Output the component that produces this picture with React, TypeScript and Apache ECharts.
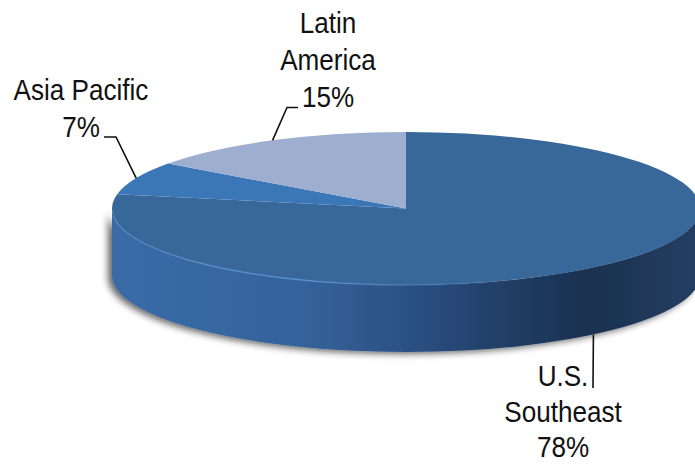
import React, { useEffect, useRef } from "react";
import * as echarts from "echarts";

// Revenue share by region
const categories = ["U.S.\nSoutheast", "Asia Pacific", "Latin\nAmerica"];
const shares = [78, 7, 15];
const topColors = ["#38679A", "#3B77B7", "#9DAED0"];

// Tilted disc geometry
const CX = 406;
const CY = 208.5;
const RX = 294;
const RY = 76.5;
const DEPTH = 67;

// Centre of each label's first line, its line spacing, and the leader bends
// that follow each slice's mid-angle rim point
const labelCentres = [
  [563, 376],
  [81, 90],
  [328, 23],
];
const lineSteps = [35.5, 37, 37];
const leaderBends = [
  [[593, 388]],
  [[116, 137], [104, 137]],
  [[287, 107.5], [298, 107.5]],
];

const FONT = '"Liberation Sans", Arial, sans-serif';
const FONT_SIZE = 29;
const rad = (deg: number) => (deg * Math.PI) / 180;
const rim = (deg: number, dy = 0): [number, number] => [
  CX + RX * Math.sin(rad(deg)),
  CY - RY * Math.cos(rad(deg)) + dy,
];

function wedgePath(a: number, b: number) {
  const [x1, y1] = rim(a);
  const [x2, y2] = rim(b);
  const large = b - a > 180 ? 1 : 0;
  return `M${CX} ${CY}L${x1} ${y1}A${RX} ${RY} 0 ${large} 1 ${x2} ${y2}Z`;
}

function wallPath(a: number, b: number) {
  const [x1, y1] = rim(a);
  const [x2, y2] = rim(b);
  const large = b - a > 180 ? 1 : 0;
  return `M${x1} ${y1}A${RX} ${RY} 0 ${large} 1 ${x2} ${y2}L${x2} ${y2 + DEPTH}A${RX} ${RY} 0 ${large} 0 ${x1} ${y1 + DEPTH}Z`;
}

function rimPath(a: number, b: number) {
  const [x1, y1] = rim(a);
  const [x2, y2] = rim(b);
  return `M${x1} ${y1}A${RX} ${RY} 0 0 0 ${x2} ${y2}`;
}

const wallGradient = new echarts.graphic.LinearGradient(0, 0, 1, 0, [
  { offset: 0, color: "#3A6BA6" },
  { offset: 0.32, color: "#35639B" },
  { offset: 0.49, color: "#2C5286" },
  { offset: 0.7, color: "#1F3B60" },
  { offset: 0.81, color: "#1B3151" },
  { offset: 1, color: "#253F62" },
]);

const rimGradient = new echarts.graphic.LinearGradient(0, 0, 1, 0, [
  { offset: 0, color: "rgba(90,145,210,0.35)" },
  { offset: 0.5, color: "rgba(90,145,210,0.9)" },
  { offset: 1, color: "rgba(90,145,210,0)" },
]);

const total = shares.reduce((s, v) => s + v, 0);

function renderSlice(params: any, api: any) {
  const i = params.dataIndex;
  const before = shares.slice(0, i).reduce((s, v) => s + v, 0);
  const start = (before / total) * 360;
  const sweep = (api.value(0) / total) * 360;
  const end = start + sweep;
  const mid = start + sweep / 2;
  const children: any[] = [];

  // Front wall, only where the slice faces the viewer
  const wa = Math.max(start, 90);
  const wb = Math.min(end, 270);
  if (wb > wa) {
    children.push({
      type: "path",
      shape: { pathData: wallPath(wa, wb) },
      style: {
        fill: wallGradient,
        shadowColor: "rgba(0,0,0,0.6)",
        shadowBlur: 7,
        shadowOffsetX: -4,
        shadowOffsetY: 2,
      },
    });
  }

  children.push({
    type: "path",
    shape: { pathData: wedgePath(start, end) },
    style: { fill: topColors[i] },
  });

  // Soft highlight along the front rim of the disc
  if (wb > wa) {
    children.push({
      type: "path",
      shape: { pathData: rimPath(265, 160) },
      style: { fill: "none", stroke: rimGradient, lineWidth: 1.6 },
    });
  }

  const anchorDrop = mid > 90 && mid < 270 ? DEPTH : 0;
  const points = [rim(mid, anchorDrop), ...leaderBends[i]];
  children.push({
    type: "polyline",
    shape: { points },
    style: { fill: "none", stroke: "#111111", lineWidth: 1.6 },
  });

  // Narrowed label lettering, one text per line
  const lines = `${categories[i]}\n${shares[i]}%`.split("\n");
  lines.forEach((line, n) => {
    children.push({
      type: "text",
      x: labelCentres[i][0],
      y: labelCentres[i][1] + n * lineSteps[i],
      scaleX: 0.9,
      scaleY: 1.03,
      style: {
        text: line,
        x: 0,
        y: 0,
        align: "center",
        verticalAlign: "middle",
        fontFamily: FONT,
        fontSize: FONT_SIZE,
        fill: "#111111",
      },
    });
  });

  return { type: "group", children };
}

export default function App() {
  const ref = useRef<HTMLDivElement>(null);
  useEffect(() => {
    const chart = echarts.init(ref.current!, null, { renderer: "svg" });
    chart.setOption({
      animation: false,
      backgroundColor: "#ffffff",
      series: [
        {
          type: "custom",
          coordinateSystem: "none",
          data: shares.map((v) => [v]),
          renderItem: renderSlice,
          silent: true,
        },
      ],
    });
    return () => chart.dispose();
  }, []);
  return (
    <div
      ref={ref}
      style={{ position: "absolute", left: 0, top: 0, width: 695, height: 464 }}
    />
  );
}
